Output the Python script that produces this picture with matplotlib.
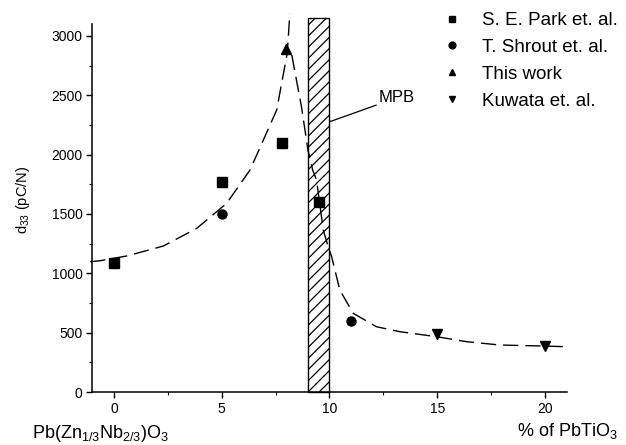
import matplotlib
matplotlib.use('Agg')
import matplotlib.pyplot as plt
from matplotlib.patches import Rectangle

plt.rcParams['font.family'] = ['Liberation Sans', 'DejaVu Sans']
plt.rcParams['mathtext.default'] = 'regular'
plt.rcParams['hatch.linewidth'] = 0.9

# measured points
park_x = [0, 5, 7.8, 9.5]
park_y = [1090, 1770, 2100, 1600]
shrout_x = [5, 11]
shrout_y = [1500, 600]
this_x = [8.0]
this_y = [2890]
kuwata_x = [15, 20]
kuwata_y = [490, 390]

# dashed guide curve (two branches)
guide_left_x = [-1.1, -0.65, 0.59, 2.29, 3.84, 5.23, 6.31, 7.55, 8.04, 8.16]
guide_left_y = [1098, 1106, 1146, 1230, 1379, 1590, 1870, 2376, 2856, 3190]
guide_right_x = [8.25, 8.7, 9.0, 9.22, 9.4, 9.71, 9.94, 10.1, 10.48, 11.1,
                 12.18, 13.27, 14.97, 16.36, 17.9, 20.0, 20.9]
guide_right_y = [2840, 2404, 2039, 1870, 1786, 1365, 1224, 1140, 859, 663,
                 550, 508, 466, 424, 396, 387, 382]

mpb_range = (9, 10)
mpb_top = 3150

fig = plt.figure(figsize=(6.26, 4.45), dpi=100)
ax = fig.add_axes([0.1476, 0.1191, 0.7575, 0.8267])

ax.add_patch(Rectangle((mpb_range[0], 0), mpb_range[1] - mpb_range[0], mpb_top,
                       facecolor='white', edgecolor='black', hatch='///',
                       linewidth=1.0, clip_on=False, zorder=1))

for gx, gy in [(guide_left_x, guide_left_y), (guide_right_x, guide_right_y)]:
    ln, = ax.plot(gx, gy, color='black', linewidth=1.0, clip_on=False, zorder=2)
    ln.set_dashes((11, 5))

ms = 6.5
ax.plot(park_x, park_y, 's', color='black', ms=ms, label='S. E. Park et. al.', zorder=3)
ax.plot(shrout_x, shrout_y, 'o', color='black', ms=ms, label='T. Shrout et. al.', zorder=3)
ax.plot(this_x, this_y, '^', color='black', ms=ms, label='This work', zorder=3)
ax.plot(kuwata_x, kuwata_y, 'v', color='black', ms=ms, label='Kuwata et. al.', zorder=3)

ax.annotate('MPB', xy=(10, 2277), xytext=(12.3, 2480), fontsize=12,
            va='center', ha='left',
            arrowprops=dict(arrowstyle='-', color='black', lw=0.9,
                            shrinkA=0, shrinkB=0))

ax.set_xlim(-1, 21)
ax.set_ylim(0, 3100)
ax.set_xticks([0, 5, 10, 15, 20])
ax.set_xticks([2.5, 7.5, 12.5, 17.5], minor=True)
ax.set_yticks(range(0, 3001, 500))
ax.set_yticks(range(250, 3001, 500), minor=True)
for s in ['top', 'right']:
    ax.spines[s].set_visible(False)
for s in ['left', 'bottom']:
    ax.spines[s].set_linewidth(1.1)
ax.tick_params(which='major', direction='out', length=4, width=1.0,
               labelsize=10, pad=3)
ax.tick_params(which='minor', direction='out', length=2, width=0.8)

ax.set_ylabel('d$_{33}$ (pC/N)', fontsize=10.5)
ax.yaxis.set_label_coords(-0.127, 0.522)

fig.text(32 / 626, 1 - 438 / 445, 'Pb(Zn$_{1/3}$Nb$_{2/3}$)O$_3$',
         fontsize=13, ha='left', va='baseline')
fig.text(517 / 626, 1 - 436 / 445, '% of PbTiO$_3$',
         fontsize=13, ha='left', va='baseline')

ax.legend(loc='upper left', bbox_to_anchor=(443 / 626, 1 - 12 / 445),
          bbox_transform=fig.transFigure, frameon=False, fontsize=13.5,
          markerscale=0.75, handlelength=1.0, handletextpad=1.1,
          labelspacing=0.52, borderpad=0, borderaxespad=0)

fig.savefig('out.png', dpi=100)
